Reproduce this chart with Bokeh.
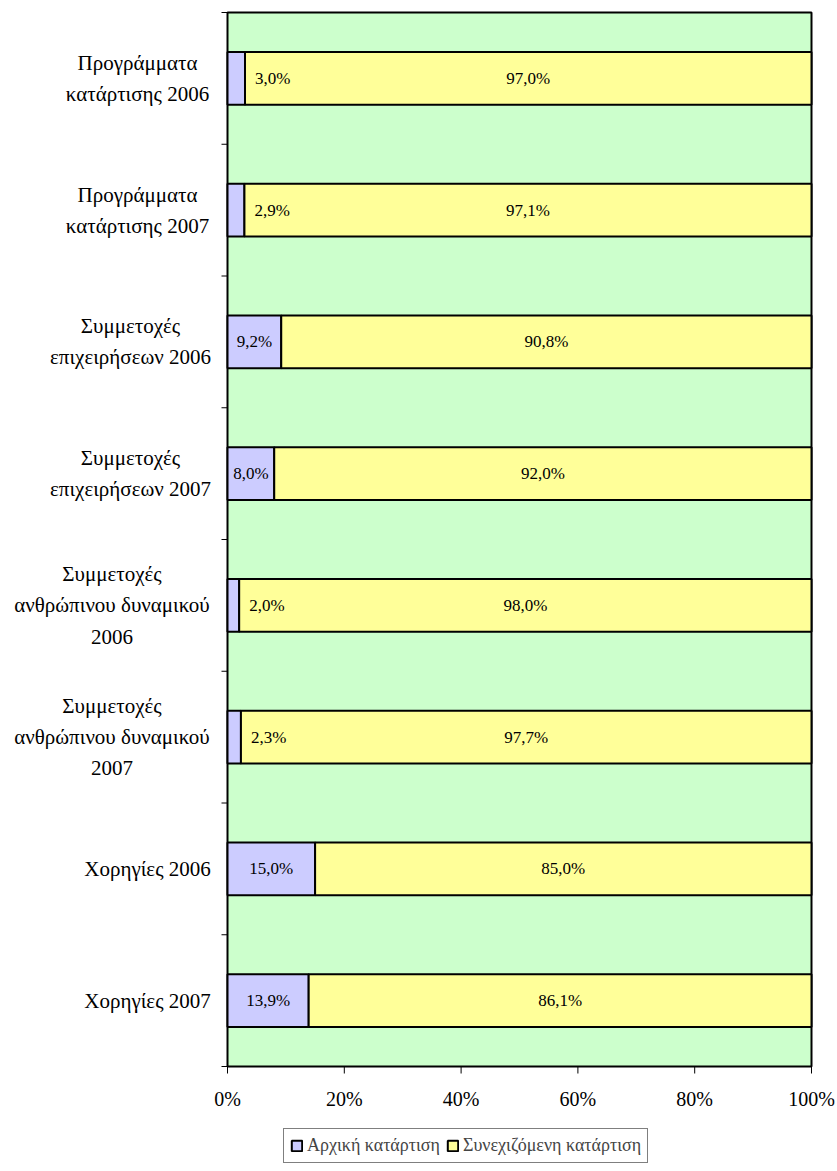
import numpy as np
from bokeh.plotting import figure
from bokeh.models import ColumnDataSource, Legend, LegendItem, Range1d
from bokeh.embed import file_html
from bokeh.resources import INLINE

categories = [
    "Προγράμματα\nκατάρτισης 2006",
    "Προγράμματα\nκατάρτισης 2007",
    "Συμμετοχές\nεπιχειρήσεων 2006",
    "Συμμετοχές\nεπιχειρήσεων 2007",
    "Συμμετοχές\nανθρώπινου δυναμικού\n2006",
    "Συμμετοχές\nανθρώπινου δυναμικού\n2007",
    "Χορηγίες 2006",
    "Χορηγίες 2007",
]
arxiki = [3.0, 2.9, 9.2, 8.0, 2.0, 2.3, 15.0, 13.9]
synexizomeni = [97.0, 97.1, 90.8, 92.0, 98.0, 97.7, 85.0, 86.1]
series_names = ["Αρχική κατάρτιση", "Συνεχιζόμενη κατάρτιση"]
x_ticks = [0, 20, 40, 60, 80, 100]

FONT = "Liberation Serif"
n = len(categories)
ypos = [n - i - 0.5 for i in range(n)]

def fmt(v):
    return f"{v:.1f}".replace(".", ",") + "%"

# layout (pixels): one frame covers the whole canvas; the 0..100% plot area sits inside it
LEFT_PX = 227      # space for category labels, left of the 0% line
PLOT_PX = 584      # width of the 0..100% area
RIGHT_PX = 26
TOP_PX = 12
PLOT_H = 1054      # height of the plot area
BOTTOM_PX = 102    # space for tick labels and legend
LABEL_GAP = 16     # gap between label block and axis
# widths (px) of each wrapped label block, used to right-align blocks with centred lines
label_block_px = [148, 148, 162, 162, 199, 199, 128, 128]

px_x = PLOT_PX / (x_ticks[-1] - x_ticks[0])
px_y = PLOT_H / n
x_start = x_ticks[0] - LEFT_PX / px_x
x_end = x_ticks[-1] + RIGHT_PX / px_x
y_start = -BOTTOM_PX / px_y
y_end = n + TOP_PX / px_y

p = figure(frame_width=LEFT_PX + PLOT_PX + RIGHT_PX, frame_height=TOP_PX + PLOT_H + BOTTOM_PX,
           output_backend="svg", toolbar_location=None,
           x_range=Range1d(x_start, x_end), y_range=Range1d(y_start, y_end),
           min_border=0)
p.background_fill_color = "white"
p.border_fill_color = "white"
p.outline_line_color = None
p.xgrid.visible = False
p.ygrid.visible = False
p.xaxis.visible = False
p.yaxis.visible = False

# plot area (green) with its black border
p.quad(left=x_ticks[0], right=x_ticks[-1], bottom=0, top=n,
       fill_color="#CCFFCC", line_color="black", line_width=2)

src = ColumnDataSource(dict(
    y=ypos, a=arxiki, b=synexizomeni,
    total=[a + b for a, b in zip(arxiki, synexizomeni)],
))
r1 = p.hbar(y="y", left=0, right="a", height=0.4, source=src,
            fill_color="#CCCCFF", line_color="black", line_width=2)
r2 = p.hbar(y="y", left="a", right="total", height=0.4, source=src,
            fill_color="#FFFF99", line_color="black", line_width=2)

# value labels
big = dict(x=[], y=[], t=[])
small = dict(x=[], y=[], t=[])
for a, b, y in zip(arxiki, synexizomeni, ypos):
    if a >= 5:
        big["x"].append(a / 2); big["y"].append(y); big["t"].append(fmt(a))
    else:
        small["x"].append(a); small["y"].append(y); small["t"].append(fmt(a))
    big["x"].append(a + b / 2); big["y"].append(y); big["t"].append(fmt(b))
p.text(x="x", y="y", text="t", source=ColumnDataSource(big), text_align="center",
       text_baseline="middle", text_font={"value": FONT}, text_font_size="17px", text_color="black")
p.text(x="x", y="y", text="t", source=ColumnDataSource(small), text_align="left", x_offset=10,
       text_baseline="middle", text_font={"value": FONT}, text_font_size="17px", text_color="black")

# category axis: ticks at the band boundaries, labels centred in each band
bounds = list(range(n + 1))
p.ray(x=[x_ticks[0]] * len(bounds), y=bounds, length=6, angle=np.pi, length_units="screen",
      line_color="black", line_width=1)
lab_x = [x_ticks[0] - (LABEL_GAP + w / 2) / px_x for w in label_block_px]
p.text(x=lab_x, y=ypos, text=categories, text_align="center", text_baseline="middle",
       text_font={"value": FONT}, text_font_size="21px", text_color="black",
       text_line_height=1.3)

# value axis: ticks below the plot area and percentage labels
p.ray(x=x_ticks, y=[0] * len(x_ticks), length=7, angle=-np.pi / 2, length_units="screen",
      line_color="black", line_width=1)
p.text(x=x_ticks, y=[0] * len(x_ticks), text=[f"{t}%" for t in x_ticks], y_offset=32,
       text_align="center", text_baseline="middle",
       text_font={"value": FONT}, text_font_size="20px", text_color="black")

legend = Legend(items=[LegendItem(label=series_names[0], renderers=[r1]),
                       LegendItem(label=series_names[1], renderers=[r2])],
                orientation="horizontal", location=(LEFT_PX + 56, 5),
                label_text_font=FONT, label_text_font_size="18px",
                glyph_width=13, glyph_height=13, label_standoff=4, spacing=6,
                padding=6, margin=0,
                border_line_color="black", border_line_width=1,
                background_fill_color="white")
p.add_layout(legend, "center")

open("out.html", "w").write(file_html(p, INLINE))
